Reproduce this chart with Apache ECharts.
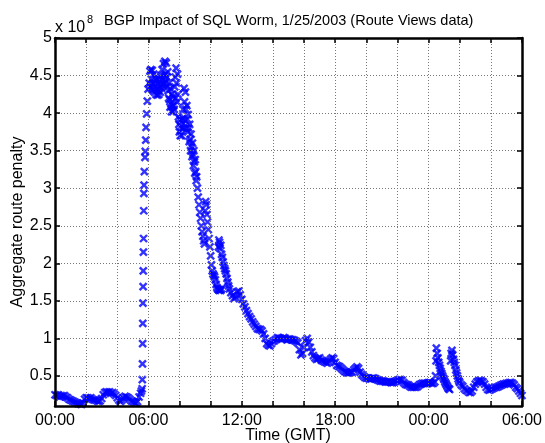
<!DOCTYPE html>
<html>
<head>
<meta charset="utf-8">
<script src="https://cdn.jsdelivr.net/npm/echarts@6/dist/echarts.min.js"></script>
<style>
html,body{margin:0;padding:0;background:#fff;}
#chart{width:545px;height:443px;}
</style>
</head>
<body>
<div id="chart"></div>
<script>
// Time in hours since 00:00 GMT, 1/25/2003
const hours = [
  0.0,0.1,0.2,0.3,0.4,0.5,0.6,0.7,0.8,0.9,1.0,1.1,1.2,1.3,1.4,1.5,1.6,1.7,1.8,1.9,
  2.0,2.1,2.2,2.3,2.4,2.5,2.6,2.7,2.8,2.9,3.0,3.1,3.2,3.3,3.4,3.5,3.6,3.7,3.8,3.9,
  4.0,4.1,4.2,4.3,4.4,4.5,4.6,4.7,4.8,4.9,5.0,5.1,5.2,5.3,5.4,5.5,5.55,
  5.6,5.61,5.62,5.63,5.64,5.65,5.66,5.67,5.68,5.69,5.7,5.71,5.72,5.74,5.78,5.8,5.83,5.85,5.89,5.93,5.98,6.05,
  6.10,6.13,6.16,6.19,6.22,6.25,6.28,6.31,6.34,6.37,6.40,6.43,6.46,6.49,6.52,6.55,6.58,6.61,6.64,6.67,
  6.70,6.73,6.76,6.79,6.82,6.85,6.88,6.91,6.94,6.97,7.00,7.03,7.06,7.09,7.12,7.15,7.18,7.21,7.24,7.27,
  7.30,7.33,7.36,7.39,7.42,7.45,7.48,7.51,7.54,7.57,7.60,7.63,7.66,7.69,7.72,7.75,7.78,7.81,7.84,7.87,
  7.90,7.93,7.96,7.99,8.02,8.05,8.08,8.11,8.14,8.17,8.20,8.23,8.26,8.29,8.32,8.35,8.38,8.41,8.44,8.47,
  8.50,8.53,8.56,8.59,8.62,8.65,8.68,8.71,8.74,8.77,8.80,8.83,8.86,8.89,8.92,8.95,8.98,9.01,9.04,9.07,9.10,
  9.15,9.2,9.25,9.3,9.35,9.4,9.45,9.5,9.55,9.6,
  9.65,9.68,9.72,9.76,9.8,9.85,9.9,9.95,10.0,10.05,10.1,10.15,10.2,10.25,10.3,10.35,10.4,10.45,10.5,10.55,10.6,10.65,10.7,
  10.5,10.53,10.57,10.6,10.65,10.7,10.75,10.8,10.85,10.9,10.95,11.0,11.05,11.1,11.15,
  11.2,11.3,11.4,11.5,11.6,11.7,11.8,11.9,12.0,12.1,12.2,12.3,12.4,12.5,12.6,12.7,12.8,12.9,
  13.0,13.1,13.2,13.3,13.4,13.5,13.6,13.7,13.8,13.9,14.0,14.1,14.2,14.3,14.4,14.5,14.6,14.7,14.8,14.9,
  15.0,15.1,15.2,15.3,15.4,15.5,15.6,15.7,15.8,15.9,16.0,16.1,16.2,16.3,16.4,16.5,16.6,16.7,16.8,16.9,
  17.0,17.1,17.2,17.3,17.4,17.5,17.6,17.7,17.8,17.9,18.0,18.1,18.2,18.3,18.4,18.5,18.6,18.7,18.8,18.9,
  19.0,19.1,19.2,19.3,19.4,19.5,19.6,19.7,19.8,19.9,20.0,20.1,20.2,20.3,20.4,20.5,20.6,20.7,20.8,20.9,
  21.0,21.1,21.2,21.3,21.4,21.5,21.6,21.7,21.8,21.9,22.0,22.1,22.2,22.3,22.4,22.5,22.6,22.7,22.8,22.9,
  23.0,23.1,23.2,23.3,23.4,23.5,23.6,23.7,23.8,23.9,24.0,24.1,24.2,24.3,24.4,
  24.45,24.48,24.5,24.55,24.6,24.65,24.7,24.75,24.8,24.85,24.9,24.95,25.0,25.05,25.1,25.15,25.2,25.25,25.3,25.35,
  25.42,25.45,25.5,25.55,25.6,25.65,25.7,25.75,25.8,25.85,25.9,25.95,26.0,26.1,26.2,26.3,26.4,26.5,26.6,26.7,
  26.8,26.9,27.0,27.1,27.2,27.3,27.4,27.5,27.6,27.7,27.8,27.9,28.0,28.1,28.2,28.3,28.4,28.5,28.6,28.7,
  28.8,28.9,29.0,29.1,29.2,29.3,29.4,29.5,29.6,29.7,29.8,29.9,30.0
];
// Aggregate route penalty, in units of 1e8
const penalty = [
  0.25,0.24,0.25,0.22,0.24,0.23,0.24,0.22,0.21,0.19,0.18,0.17,0.16,0.15,0.14,0.13,0.13,0.12,0.14,0.19,
  0.21,0.21,0.20,0.21,0.19,0.18,0.18,0.17,0.16,0.17,0.20,0.25,0.28,0.29,0.28,0.29,0.27,0.28,0.26,0.24,
  0.21,0.18,0.16,0.18,0.21,0.23,0.22,0.21,0.19,0.17,0.16,0.15,0.14,0.16,0.22,0.27,0.30,
  0.33,0.45,0.66,0.93,1.20,1.47,1.69,1.90,2.15,2.33,2.70,2.93,3.04,3.22,3.41,3.49,3.64,3.81,3.99,4.16,4.32,4.40,
  4.56,4.35,4.58,4.45,4.32,4.57,4.40,4.30,4.52,4.38,4.28,4.47,4.35,4.25,4.44,4.32,4.24,4.40,4.30,4.25,
  4.45,4.35,4.28,4.50,4.38,4.33,4.58,4.45,4.38,4.66,4.50,4.40,4.69,4.52,4.42,4.67,4.48,4.35,4.55,4.30,
  4.20,4.40,4.18,4.08,4.32,4.12,4.02,4.25,4.10,4.02,4.22,4.10,4.05,4.35,4.48,4.20,4.60,4.40,4.15,4.52,
  4.25,3.95,3.85,3.75,3.92,3.70,3.82,3.90,3.70,3.80,3.93,4.05,3.80,4.33,4.15,3.90,4.28,4.05,3.80,4.10,
  3.92,3.75,3.98,3.80,3.62,3.85,3.65,3.50,3.72,3.55,3.42,3.60,3.45,3.30,3.50,3.35,3.20,3.38,3.22,3.10,3.15,
  3.00,2.88,2.78,2.68,2.60,2.50,2.42,2.36,2.30,2.26,
  2.70,2.82,2.78,2.65,2.55,2.45,2.33,2.22,2.10,1.98,1.90,1.86,1.84,1.82,1.78,1.72,1.68,1.66,1.65,1.64,1.65,1.64,1.66,
  2.22,2.31,2.28,2.20,2.24,2.12,2.08,2.02,1.97,1.93,1.90,1.86,1.80,1.75,1.70,
  1.66,1.61,1.57,1.53,1.55,1.62,1.63,1.58,1.52,1.46,1.42,1.37,1.33,1.29,1.26,1.22,1.19,1.16,
  1.13,1.12,1.12,1.10,1.06,1.00,0.93,0.91,0.90,0.93,0.96,0.97,0.99,1.01,1.00,1.00,0.99,1.01,1.00,0.98,
  0.99,0.99,0.98,0.98,0.97,0.96,0.94,0.85,0.78,0.80,0.88,0.97,1.00,0.95,0.88,0.82,0.77,0.74,0.72,0.73,
  0.74,0.71,0.70,0.69,0.68,0.67,0.69,0.72,0.74,0.73,0.68,0.64,0.63,0.62,0.60,0.58,0.56,0.55,0.54,0.54,
  0.55,0.55,0.58,0.60,0.62,0.60,0.55,0.52,0.50,0.48,0.47,0.47,0.46,0.46,0.47,0.47,0.46,0.45,0.44,0.43,
  0.43,0.43,0.42,0.42,0.42,0.42,0.41,0.41,0.42,0.43,0.44,0.45,0.45,0.44,0.41,0.39,0.38,0.38,0.36,0.35,
  0.35,0.35,0.35,0.36,0.38,0.39,0.40,0.40,0.40,0.40,0.41,0.41,0.40,0.40,0.42,
  0.50,0.70,0.87,0.80,0.74,0.68,0.64,0.60,0.56,0.53,0.50,0.47,0.45,0.42,0.40,0.38,0.36,0.34,0.33,0.32,
  0.70,0.80,0.84,0.78,0.72,0.68,0.64,0.58,0.54,0.50,0.46,0.43,0.41,0.38,0.36,0.33,0.31,0.30,0.28,0.28,
  0.30,0.35,0.39,0.42,0.43,0.44,0.43,0.42,0.39,0.35,0.32,0.31,0.32,0.33,0.34,0.35,0.35,0.36,0.37,0.38,
  0.39,0.39,0.40,0.40,0.41,0.41,0.40,0.38,0.35,0.33,0.30,0.27,0.24
];
const xTickHours = [0, 6, 12, 18, 24, 30];
const xTickLabels = ['00:00', '06:00', '12:00', '18:00', '00:00', '06:00'];
const yTicks = [0.5, 1, 1.5, 2, 2.5, 3, 3.5, 4, 4.5, 5];
const yTickLabels = ['0.5', '1', '1.5', '2', '2.5', '3', '3.5', '4', '4.5', '5'];

const FONT = "'Liberation Sans', Arial, Helvetica, sans-serif";
const points = hours.map((h, i) => [h, penalty[i]]);

function xLabel(v) {
  const i = xTickHours.indexOf(v);
  return i >= 0 ? xTickLabels[i] : '';
}
function yLabel(v) {
  const i = yTicks.findIndex(t => Math.abs(t - v) < 1e-9);
  return i >= 0 ? yTickLabels[i] : '';
}

const axisLineStyle = { color: '#000', width: 2.5 };
const tickStyle = { color: '#000', width: 1.5 };
const chart = echarts.init(document.getElementById('chart'), null, { renderer: 'canvas' });
chart.setOption({
  animation: false,
  backgroundColor: '#ffffff',
  grid: { left: 55, right: 23, top: 38, bottom: 37, containLabel: false },
  xAxis: [{
    type: 'value', min: 0, max: 30, interval: 2, position: 'bottom',
    axisLine: { show: true, onZero: false, lineStyle: axisLineStyle },
    axisTick: { show: true, inside: true, length: 5, lineStyle: tickStyle },
    axisLabel: { formatter: xLabel, color: '#000', fontSize: 16, fontFamily: FONT, margin: 7, showMinLabel: true, showMaxLabel: true, hideOverlap: false },
    splitLine: { show: true, lineStyle: { color: '#777', type: [1, 2], width: 1 } },
    z: 5
  }, {
    type: 'value', min: 0, max: 30, interval: 2, position: 'top',
    axisLine: { show: true, onZero: false, lineStyle: axisLineStyle },
    axisTick: { show: true, inside: true, length: 5, lineStyle: tickStyle },
    axisLabel: { show: false },
    splitLine: { show: false },
    z: 5
  }],
  yAxis: [{
    type: 'value', min: 0.1, max: 5, position: 'left',
    axisLine: { show: true, onZero: false, lineStyle: axisLineStyle },
    axisTick: { show: true, inside: true, length: 5, customValues: yTicks, lineStyle: tickStyle },
    axisLabel: { customValues: yTicks, formatter: yLabel, color: '#000', fontSize: 16, fontFamily: FONT, margin: 3, showMinLabel: true, showMaxLabel: true, hideOverlap: false },
    splitLine: { show: true, lineStyle: { color: '#777', type: [1, 2], width: 1 } },
    z: 5
  }, {
    type: 'value', min: 0.1, max: 5, position: 'right',
    axisLine: { show: true, onZero: false, lineStyle: axisLineStyle },
    axisTick: { show: true, inside: true, length: 5, customValues: yTicks, lineStyle: tickStyle },
    axisLabel: { show: false },
    splitLine: { show: false },
    z: 5
  }],
  series: [{
    type: 'scatter',
    xAxisIndex: 0, yAxisIndex: 0,
    data: points,
    symbol: 'path://M0,0L10,10M10,0L0,10',
    symbolSize: 7,
    itemStyle: { color: 'rgba(0,0,0,0)', borderColor: '#0000ff', borderWidth: 2.4 },
    clip: true,
    z: 2
  }],
  graphic: [
    { type: 'text', left: 104, top: 13, style: { text: 'BGP Impact of SQL Worm, 1/25/2003 (Route Views data)', font: '14.5px ' + FONT, fill: '#000' } },
    { type: 'text', left: 55, top: 20, style: { text: 'x 10', font: '16px ' + FONT, fill: '#000' } },
    { type: 'text', left: 87, top: 14, style: { text: '8', font: '11px ' + FONT, fill: '#000' } },
    { type: 'text', x: 18, y: 222, rotation: Math.PI / 2, style: { text: 'Aggregate route penalty', font: '16px ' + FONT, fill: '#000', align: 'center', verticalAlign: 'middle' } },
    { type: 'text', x: 288, y: 436, style: { text: 'Time (GMT)', font: '16px ' + FONT, fill: '#000', align: 'center', verticalAlign: 'middle' } }
  ]
});
</script>
</body>
</html>
